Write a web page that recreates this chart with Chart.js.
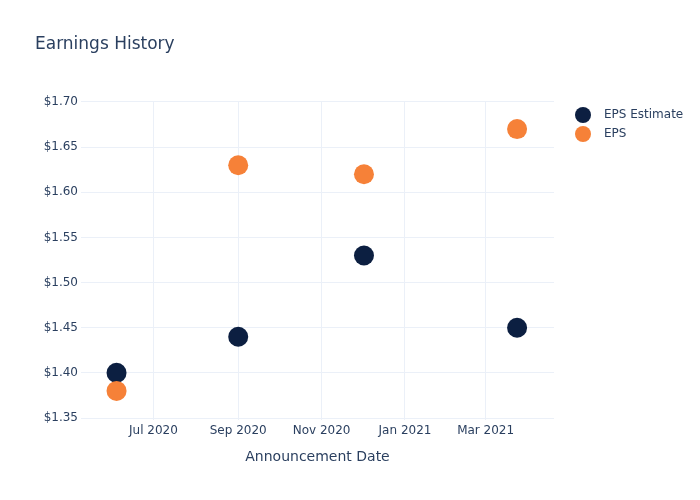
<!DOCTYPE html>
<html>
<head>
<meta charset="utf-8">
<script src="https://cdn.jsdelivr.net/npm/chart.js@4"></script>
<style>
    html, body { margin: 0; padding: 0; background: #fff; }
    #wrap { width: 700px; height: 500px; }
</style>
</head>
<body>
<div id="wrap"><canvas id="earningsChart" width="700" height="500"></canvas></div>
<script>
const announceDates = [
    Date.UTC(2020, 5, 4),
    Date.UTC(2020, 8, 1),
    Date.UTC(2020, 11, 2),
    Date.UTC(2021, 2, 24),
];
const epsEstimate = [1.40, 1.44, 1.53, 1.45];
const epsActual = [1.38, 1.63, 1.62, 1.67];
const xTickDates = [
    Date.UTC(2020, 6, 1),
    Date.UTC(2020, 8, 1),
    Date.UTC(2020, 10, 1),
    Date.UTC(2021, 0, 1),
    Date.UTC(2021, 2, 1),
];
const yTickValues = [1.35, 1.40, 1.45, 1.50, 1.55, 1.60, 1.65, 1.70];
const monthNames = ["Jan", "Feb", "Mar", "Apr", "May", "Jun", "Jul", "Aug", "Sep", "Oct", "Nov", "Dec"];

const textColor = "#2a3f5f";
const gridColor = "#ebf0f8";
const navy = "#0c1f41";
const orange = "#f68138";
const font = "'DejaVu Sans', sans-serif";

function toPoints(values) {
    return values.map((v, i) => ({ x: announceDates[i], y: v }));
}

const titleAndLegend = {
    id: "titleAndLegend",
    afterDraw(chart) {
        const ctx = chart.ctx;
        ctx.save();
        ctx.fillStyle = textColor;
        ctx.textBaseline = "middle";
        ctx.textAlign = "left";
        ctx.font = "17px " + font;
        ctx.fillText("Earnings History", 35, 45);

        const items = [
            { label: "EPS Estimate", color: navy },
            { label: "EPS", color: orange },
        ];
        ctx.font = "12px " + font;
        items.forEach((item, i) => {
            const y = 115 + i * 19;
            ctx.beginPath();
            ctx.arc(583, y, 8, 0, Math.PI * 2);
            ctx.fillStyle = item.color;
            ctx.fill();
            ctx.fillStyle = textColor;
            ctx.fillText(item.label, 604, y);
        });
        ctx.restore();
    },
};

const ctx = document.getElementById("earningsChart").getContext("2d");
new Chart(ctx, {
    type: "scatter",
    data: {
        datasets: [
            {
                label: "EPS Estimate",
                data: toPoints(epsEstimate),
                backgroundColor: navy,
                borderColor: navy,
                borderWidth: 0,
                pointRadius: 10,
                order: 1,
            },
            {
                label: "EPS",
                data: toPoints(epsActual),
                backgroundColor: orange,
                borderColor: orange,
                borderWidth: 0,
                pointRadius: 10,
                order: 0,
            },
        ],
    },
    options: {
        responsive: false,
        animation: false,
        layout: { padding: { left: 1, top: 101, right: 146, bottom: 30 } },
        plugins: {
            legend: { display: false },
            tooltip: { enabled: false },
        },
        scales: {
            x: {
                type: "linear",
                min: Date.UTC(2020, 4, 9),
                max: Date.UTC(2021, 3, 20),
                afterBuildTicks: (scale) => {
                    scale.ticks = xTickDates.map((v) => ({ value: v }));
                },
                afterFit: (scale) => { scale.height = 50; },
                grid: { color: gridColor, drawTicks: false },
                border: { display: false },
                ticks: {
                    color: textColor,
                    font: { family: font, size: 12 },
                    padding: 4,
                    maxRotation: 0,
                    autoSkip: false,
                    callback: (v) => {
                        const d = new Date(v);
                        return monthNames[d.getUTCMonth()] + " " + d.getUTCFullYear();
                    },
                },
                title: {
                    display: true,
                    text: "Announcement Date",
                    color: textColor,
                    font: { family: font, size: 14 },
                    padding: { top: 12 },
                },
            },
            y: {
                min: 1.3478,
                max: 1.7011,
                afterBuildTicks: (scale) => {
                    scale.ticks = yTickValues.map((v) => ({ value: v }));
                },
                afterFit: (scale) => { scale.width = 80; },
                grid: { color: gridColor, drawTicks: false },
                border: { display: false },
                ticks: {
                    color: textColor,
                    font: { family: font, size: 12 },
                    padding: 3,
                    callback: (v) => "$" + v.toFixed(2),
                },
            },
        },
    },
    plugins: [titleAndLegend],
});
</script>
</body>
</html>
